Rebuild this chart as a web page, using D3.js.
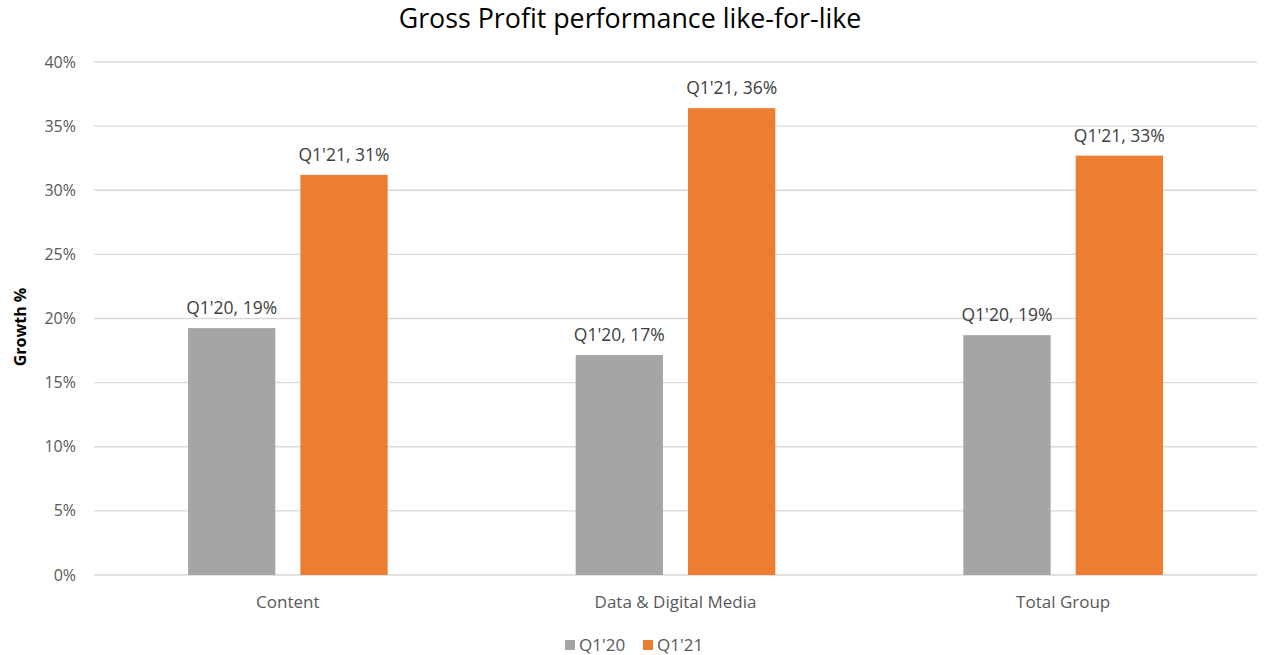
<!DOCTYPE html>
<html>
<head>
<meta charset="utf-8">
<script src="https://cdn.jsdelivr.net/npm/d3@7"></script>
<style>
  body { margin: 0; background: white; }
  text { font-family: "Open Sans", "Noto Sans", sans-serif; }
</style>
</head>
<body>
<div class="plot"></div>
<script>
// Data
var categories = ["Content", "Data & Digital Media", "Total Group"];
var seriesNames = ["Q1'20", "Q1'21"];
var q120 = [19.25, 17.15, 18.7];
var q121 = [31.2, 36.4, 32.7];
var labels20 = ["19%", "17%", "19%"];
var labels21 = ["31%", "36%", "33%"];
var yTicks = [0, 5, 10, 15, 20, 25, 30, 35, 40];
var colors = ["#A5A5A5", "#ED7D31"];

var outerWidth = 1265, outerHeight = 655;
var margin = {top: 62, right: 8, bottom: 80, left: 94},
    width = outerWidth - margin.left - margin.right,
    height = outerHeight - margin.top - margin.bottom;

var svg = d3.select(".plot").append("svg")
    .attr("width", outerWidth)
    .attr("height", outerHeight);

svg.append("rect").attr("width", "100%").attr("height", "100%").attr("fill", "white");

var canvas = svg.append("g")
    .attr("transform", "translate(" + margin.left + "," + margin.top + ")");

// Scales
var xScale = d3.scaleBand().domain(categories).range([0, width]).paddingInner(0).paddingOuter(0);
var xInner = d3.scaleBand().domain(seriesNames).range([94, xScale.bandwidth() - 94]).paddingInner(0.223);
var yScale = d3.scaleLinear().domain([0, 40]).range([height, 0]);

// Gridlines
canvas.selectAll(".grid")
    .data(yTicks)
    .enter().append("line")
    .attr("x1", 0)
    .attr("x2", width)
    .attr("y1", d => yScale(d))
    .attr("y2", d => yScale(d))
    .attr("stroke", "#D9D9D9")
    .attr("stroke-width", 1.3);

// Y tick labels
canvas.selectAll(".ytick")
    .data(yTicks)
    .enter().append("text")
    .attr("x", -18)
    .attr("y", d => yScale(d))
    .attr("dy", "0.35em")
    .attr("text-anchor", "end")
    .attr("fill", "#595959")
    .style("font-size", "16px")
    .text(d => d + "%");

// X category labels
canvas.selectAll(".xtick")
    .data(categories)
    .enter().append("text")
    .attr("x", d => xScale(d) + xScale.bandwidth() / 2)
    .attr("y", height + 33)
    .attr("text-anchor", "middle")
    .attr("fill", "#595959")
    .style("font-size", "17px")
    .text(d => d);

// Bars
var rows = categories.map((c, i) => ({cat: c, values: [
    {s: seriesNames[0], v: q120[i], lab: labels20[i], color: colors[0]},
    {s: seriesNames[1], v: q121[i], lab: labels21[i], color: colors[1]}
]}));

var groups = canvas.selectAll(".grp")
    .data(rows)
    .enter().append("g")
    .attr("transform", d => "translate(" + xScale(d.cat) + ",0)");

groups.selectAll("rect")
    .data(d => d.values)
    .enter().append("rect")
    .attr("x", d => xInner(d.s))
    .attr("width", xInner.bandwidth())
    .attr("y", d => yScale(d.v))
    .attr("height", d => height - yScale(d.v))
    .attr("fill", d => d.color);

groups.selectAll(".lbl")
    .data(d => d.values)
    .enter().append("text")
    .attr("x", d => xInner(d.s) + xInner.bandwidth() / 2)
    .attr("y", d => yScale(d.v) - 14)
    .attr("text-anchor", "middle")
    .attr("fill", "#404040")
    .style("font-size", "17.5px")
    .text(d => d.s + ", " + d.lab);

// Title
svg.append("text")
    .attr("x", 630)
    .attr("y", 28)
    .attr("text-anchor", "middle")
    .attr("fill", "#000")
    .style("font-size", "26.8px")
    .text("Gross Profit performance like-for-like");

// Y axis title
svg.append("text")
    .attr("transform", "translate(26," + 327 + ") rotate(-90)")
    .attr("text-anchor", "middle")
    .attr("fill", "#000")
    .style("font-size", "16px")
    .style("font-weight", "bold")
    .text("Growth %");

// Legend
var legendX = [565, 643];
var legend = svg.selectAll(".legend")
    .data(seriesNames)
    .enter().append("g")
    .attr("transform", (d, i) => "translate(" + legendX[i] + ",645)");

legend.append("rect")
    .attr("x", 0)
    .attr("y", -5)
    .attr("width", 10)
    .attr("height", 10)
    .attr("fill", (d, i) => colors[i]);

legend.append("text")
    .attr("x", 14)
    .attr("y", 0)
    .attr("dy", "0.35em")
    .attr("fill", "#595959")
    .style("font-size", "17px")
    .text(d => d);
</script>
</body>
</html>
